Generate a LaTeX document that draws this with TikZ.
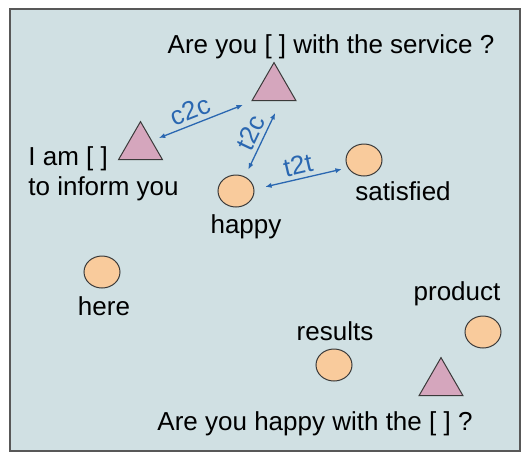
\documentclass[tikz,border=0pt]{standalone}
\usepackage{fontspec}
\setmainfont{Liberation Sans}
\usetikzlibrary{arrows.meta,shapes.geometric}
\definecolor{panelbg}{HTML}{D0E0E3}
\definecolor{ctxpink}{HTML}{D5A6BD}
\definecolor{wordorange}{HTML}{F9CB9C}
\definecolor{linkblue}{HTML}{2A67B1}
\definecolor{edgegray}{HTML}{3A3A3A}

\begin{document}
\begin{tikzpicture}[
    x=0.5pt, y=-0.5pt,
    font=\fontsize{13}{15.6}\selectfont,
    context/.style={
        regular polygon,
        regular polygon sides=3,
        draw=edgegray,
        fill=ctxpink,
        line width=0.5pt,
        minimum size=25.4pt,
        inner sep=0pt,
        outer sep=0pt
    },
    target/.style={
        ellipse,
        draw=edgegray,
        fill=wordorange,
        line width=0.5pt,
        minimum width=18pt,
        minimum height=16pt,
        inner sep=0pt,
        outer sep=0pt
    },
    caption/.style={anchor=base, inner sep=0pt, text=black},
    link/.style={{Latex[length=3.2pt,width=2.6pt]}-{Latex[length=3.2pt,width=2.6pt]}, line width=0.65pt, draw=linkblue},
    linklabel/.style={sloped, above, inner sep=2pt, text=linkblue}
]

\useasboundingbox (0,0) rectangle (531,462);
\draw[fill=panelbg, draw=edgegray!85, line width=0.7pt] (10,9) rectangle (520,451);

% contexts
\node[context] (servicectx) at (274,88) {};
\node[context] (informctx) at (140.5,147) {};
\node[context] (productctx) at (441,383) {};

% words
\node[target] (happy) at (236,191) {};
\node[target] (satisfied) at (364,160) {};
\node[target] (here) at (102,272) {};
\node[target] (results) at (334,365) {};
\node[target] (product) at (483,332) {};

% captions
\node[caption] (servicetxt) at (331,53) {Are you [ ] with the service ?};
\node[caption, anchor=base west] (informtxta) at (28,165) {I am [ ]};
\node[caption, anchor=base west] (informtxtb) at (28,195) {to inform you};
\node[caption] (happytxt) at (246,233) {happy};
\node[caption] (satisfiedtxt) at (403,200) {satisfied};
\node[caption] (heretxt) at (104,315) {here};
\node[caption] (producttxt) at (457,300) {product};
\node[caption] (resultstxt) at (335,340) {results};
\node[caption] (producttxtb) at (315,430) {Are you happy with the [ ] ?};

% links
\draw[link, shorten <=3.9pt, shorten >=5.8pt] (informctx.29) -- node[linklabel, pos=0.43] {c2c} (servicectx.212);
\draw[link, shorten <=4.1pt, shorten >=6.8pt] (happy.58) -- node[linklabel, pos=0.5] {t2c} (servicectx.-61);
\draw[link, shorten <=5.8pt, shorten >=3.3pt] (happy.5) -- node[linklabel, pos=0.5] {t2t} (satisfied.206);

\end{tikzpicture}
\end{document}
